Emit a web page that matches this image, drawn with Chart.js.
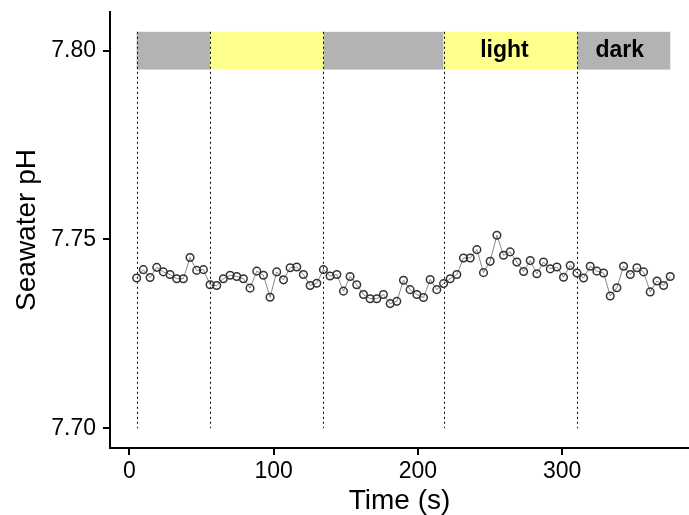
<!DOCTYPE html>
<html>
<head>
<meta charset="utf-8">
<script src="https://cdn.jsdelivr.net/npm/chart.js@4/dist/chart.umd.min.js"></script>
<style>
  html, body { margin: 0; padding: 0; background: #ffffff; }
  #wrap { width: 689px; height: 515px; }
</style>
</head>
<body>
<div id="wrap"><canvas id="chart" width="689" height="515"></canvas></div>
<script>
// sampling times (s)
const times = [
  5.0, 9.6, 14.3, 18.9, 23.5, 28.1, 32.8, 37.4, 42.0, 46.6,
  51.3, 55.9, 60.5, 65.1, 69.8, 74.4, 79.0, 83.6, 88.3, 92.9,
  97.5, 102.1, 106.8, 111.4, 116.0, 120.6, 125.3, 129.9, 134.5, 139.1,
  143.8, 148.4, 153.0, 157.6, 162.3, 166.9, 171.5, 176.1, 180.8, 185.4,
  190.0, 194.6, 199.3, 203.9, 208.5, 213.1, 217.8, 222.4, 227.0, 231.6,
  236.3, 240.9, 245.5, 250.1, 254.8, 259.4, 264.0, 268.6, 273.3, 277.9,
  282.5, 287.1, 291.8, 296.4, 301.0, 305.6, 310.3, 314.9, 319.5, 324.1,
  328.8, 333.4, 338.0, 342.6, 347.3, 351.9, 356.5, 361.1, 365.8, 370.4,
  375.0
];

// seawater pH readings
const ph = [
  7.7398, 7.7420, 7.7399, 7.7426, 7.7414, 7.7407, 7.7396, 7.7396, 7.7452, 7.7418,
  7.7420, 7.7380, 7.7378, 7.7396, 7.7405, 7.7402, 7.7396, 7.7371, 7.7416, 7.7405,
  7.7347, 7.7414, 7.7393, 7.7425, 7.7427, 7.7407, 7.7378, 7.7384, 7.7420, 7.7403,
  7.7407, 7.7363, 7.7402, 7.7380, 7.7354, 7.7343, 7.7343, 7.7354, 7.7330, 7.7336,
  7.7392, 7.7367, 7.7354, 7.7346, 7.7394, 7.7367, 7.7383, 7.7396, 7.7407, 7.7451,
  7.7451, 7.7473, 7.7412, 7.7442, 7.7511, 7.7458, 7.7467, 7.7440, 7.7415, 7.7444,
  7.7409, 7.7440, 7.7422, 7.7427, 7.7400, 7.7431, 7.7411, 7.7398, 7.7429, 7.7416,
  7.7411, 7.7350, 7.7372, 7.7429, 7.7407, 7.7425, 7.7414, 7.7361, 7.7390, 7.7378,
  7.7402
];

// light / dark phases
const phaseEdges = [5.0, 55.9, 134.5, 217.8, 310.3, 375.0];
const phaseColors = ["#b3b3b3", "#ffff8c", "#b3b3b3", "#ffff8c", "#b3b3b3"];
const phaseLabels = ["light", "dark"];
const phaseLabelTimes = [260, 340];
const dividerTimes = [5.0, 55.9, 134.5, 217.8, 310.3];

const xTicks = [0, 100, 200, 300];
const yTicks = [7.70, 7.75, 7.80];

const FONT = "'Liberation Sans', Arial, Helvetica, sans-serif";

// draws the phase strip and the dotted dividers behind the points
const phasePlugin = {
  id: "phases",
  beforeDatasetsDraw(chart) {
    const ctx = chart.ctx;
    const x = chart.scales.x;
    const y = chart.scales.y;
    const top = y.getPixelForValue(7.805);
    const bottom = y.getPixelForValue(7.795);

    ctx.save();
    for (let i = 0; i < phaseColors.length; i++) {
      const x0 = x.getPixelForValue(phaseEdges[i]);
      const x1 = x.getPixelForValue(phaseEdges[i + 1]);
      ctx.fillStyle = phaseColors[i];
      ctx.fillRect(x0, top, x1 - x0, bottom - top);
    }

    ctx.fillStyle = "#000000";
    ctx.font = "bold 23px " + FONT;
    ctx.textAlign = "center";
    ctx.textBaseline = "middle";
    phaseLabels.forEach((label, i) => {
      ctx.fillText(label, x.getPixelForValue(phaseLabelTimes[i]), (top + bottom) / 2);
    });

    ctx.strokeStyle = "#000000";
    ctx.lineWidth = 1;
    ctx.setLineDash([2, 3]);
    const lineEnd = y.getPixelForValue(7.70);
    dividerTimes.forEach((t) => {
      const px = Math.round(x.getPixelForValue(t)) + 0.5;
      ctx.beginPath();
      ctx.moveTo(px, top);
      ctx.lineTo(px, lineEnd);
      ctx.stroke();
    });
    ctx.restore();
  },
};

const points = times.map((t, i) => ({ x: t, y: ph[i] }));

new Chart(document.getElementById("chart"), {
  type: "scatter",
  data: {
    datasets: [
      {
        data: points,
        showLine: true,
        borderColor: "#555555",
        borderWidth: 0.7,
        pointRadius: 3.8,
        pointBorderWidth: 1.5,
        pointBorderColor: "#333333",
        pointBackgroundColor: "rgba(0,0,0,0)",
        pointHoverRadius: 3.8,
      },
    ],
  },
  options: {
    responsive: false,
    animation: false,
    layout: { autoPadding: false, padding: { top: 12, right: 0, left: 0, bottom: 0 } },
    plugins: {
      legend: { display: false },
      tooltip: { enabled: false },
    },
    scales: {
      x: {
        type: "linear",
        min: -13.5,
        max: 388,
        afterBuildTicks: (scale) => {
          scale.ticks = xTicks.map((v) => ({ value: v }));
        },
        afterFit: (scale) => {
          scale.height = 67;
          scale.paddingLeft = 0;
          scale.paddingRight = 0;
        },
        grid: {
          drawOnChartArea: false,
          drawTicks: true,
          tickLength: 7,
          color: "#000000",
          lineWidth: 2,
        },
        border: { display: true, color: "#000000", width: 2 },
        ticks: {
          color: "#000000",
          font: { family: FONT, size: 23 },
          padding: 3,
          maxRotation: 0,
        },
        title: {
          display: true,
          text: "Time (s)",
          color: "#000000",
          font: { family: FONT, size: 28, lineHeight: 1.0 },
          padding: { top: 0, bottom: 0 },
        },
      },
      y: {
        type: "linear",
        min: 7.69475,
        max: 7.81025,
        afterBuildTicks: (scale) => {
          scale.ticks = yTicks.map((v) => ({ value: v }));
        },
        afterFit: (scale) => {
          scale.width = 110;
          scale.paddingTop = 0;
          scale.paddingBottom = 0;
        },
        grid: {
          drawOnChartArea: false,
          drawTicks: true,
          tickLength: 7,
          color: "#000000",
          lineWidth: 2,
        },
        border: { display: true, color: "#000000", width: 2 },
        ticks: {
          color: "#000000",
          font: { family: FONT, size: 23 },
          padding: 7,
          callback: (v) => Number(v).toFixed(2),
        },
        title: {
          display: true,
          text: "Seawater pH",
          color: "#000000",
          font: { family: FONT, size: 28 },
          padding: { top: 10, bottom: 0 },
        },
      },
    },
  },
  plugins: [phasePlugin],
});
</script>
</body>
</html>
